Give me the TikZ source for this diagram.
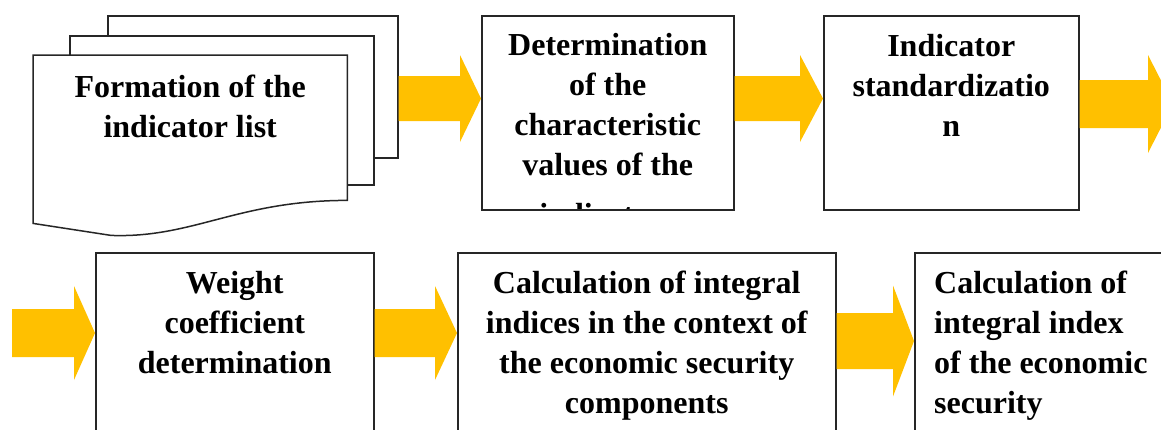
\documentclass[tikz,border=0pt]{standalone}
\usepackage{fontspec}
\setmainfont{Liberation Serif}
\usetikzlibrary{calc}
\definecolor{gold}{RGB}{255,192,0}
\tikzset{
  bx/.style={rectangle, draw=black!85, line width=1.5pt, fill=white, inner sep=0pt, anchor=north west},
  txt/.style={align=center, inner sep=0pt, anchor=north, font=\fontsize{32}{40}\selectfont\bfseries},
  blk/.style={fill=gold}
}
% block arrow: start, end, shaft half height, head half height, head length
\newcommand{\blockarrow}[5]{%
  \fill[blk] ($(#1)+(0,#3)$) -- ($(#2)+(-#5,#3)$) -- ($(#2)+(-#5,#4)$) -- (#2)
    -- ($(#2)+(-#5,-#4)$) -- ($(#2)+(-#5,-#3)$) -- ($(#1)+(0,-#3)$) -- cycle;}
\begin{document}
\begin{tikzpicture}[x=1pt,y=-1pt]
	\useasboundingbox (0,0) rectangle (1161,429);
	\clip (0,0) rectangle (1161,429);
	% stacked sheets
	\node[bx, minimum width=290pt, minimum height=142pt] (sheetC) at (107,15) {};
	\node[bx, minimum width=304pt, minimum height=149pt] (sheetB) at (69,35) {};
	\node[inner sep=0pt, minimum width=314pt, minimum height=145pt, anchor=north west] (form) at (33,55) {};
	\filldraw[fill=white, draw=black!85, line width=1.5pt] (form.north west) -- (form.north east) -- (form.south east)
		.. controls ($(form.south east)+(-110,0)$) and ($(form.south west)+(160,38)$) .. ($(form.south west)+(78,35)$)
		-- ($(form.south west)+(0,23)$) -- cycle;
	\node[txt] (formTxt) at ($(form.north)+(0,20)$) {Formation of the\\indicator list};
	%
	\node[bx, minimum width=252pt, minimum height=194pt] (det) at (481,15) {};
	\begin{scope}
		\clip ($(det.north west)+(1,1)$) rectangle ($(det.south east)+(-1,-2)$);
		\node[txt] (detTxt) at ($(det.north)+(0,18.5)$) {Determination\\of the\\characteristic\\values of the\\[10pt]indicators};
	\end{scope}
	\node[bx, minimum width=255pt, minimum height=194pt] (std) at (823,15) {};
	\node[txt] (stdTxt) at ($(std.north)+(0,19)$) {Indicator\\standardizatio\\n};
	%
	\node[bx, minimum width=278pt, minimum height=250pt] (wgt) at (95,252) {};
	\node[txt] (wgtTxt) at ($(wgt.north)+(0,19)$) {Weight\\coefficient\\determination};
	\node[bx, minimum width=378pt, minimum height=250pt] (intc) at (457,252) {};
	\node[txt] (intcTxt) at ($(intc.north)+(0,19)$) {Calculation of integral\\indices in the context of\\the economic security\\components};
	\node[bx, minimum width=300pt, minimum height=250pt] (intx) at (914,252) {};
	\node[txt, align=left, anchor=north west] (intxTxt) at ($(intx.north west)+(20,19)$) {Calculation of\\integral index\\of the economic\\security};
	%
	\coordinate (a1s) at (sheetC.east |- 0,98.5);
	\coordinate (a1e) at (det.west |- a1s);
	\coordinate (a2s) at (det.east |- 0,98.5);
	\coordinate (a2e) at (std.west |- a2s);
	\coordinate (a3s) at (std.east |- 0,104);
	\coordinate (a3e) at (1173,104);
	\coordinate (a4s) at (12,333);
	\coordinate (a4e) at (wgt.west |- a4s);
	\coordinate (a5s) at (wgt.east |- 0,333);
	\coordinate (a5e) at (intc.west |- a5s);
	\coordinate (a6s) at (intc.east |- 0,341);
	\coordinate (a6e) at (intx.west |- a6s);
	\blockarrow{a1s}{a1e}{22.5}{43.5}{21}
	\blockarrow{a2s}{a2e}{22.5}{43.5}{23}
	\blockarrow{a3s}{a3e}{24}{49}{25}
	\blockarrow{a4s}{a4e}{24}{47}{21}
	\blockarrow{a5s}{a5e}{24}{47}{22}
	\blockarrow{a6s}{a6e}{28}{55.5}{21}
\end{tikzpicture}
\end{document}
